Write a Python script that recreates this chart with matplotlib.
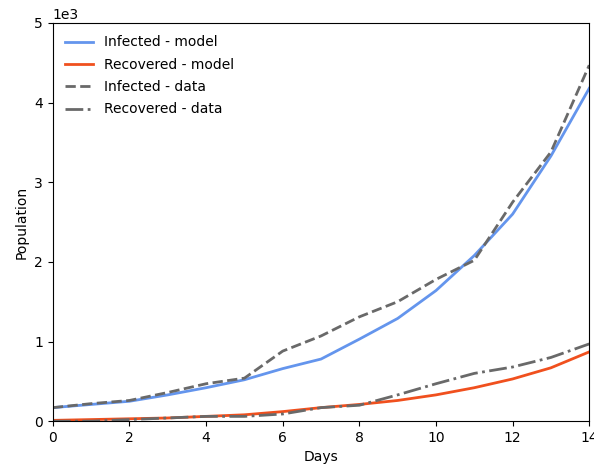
import numpy as np
import matplotlib.pyplot as plt

days = np.arange(0, 15)

infected_model = [170, 210, 250, 330, 420, 520, 660, 780, 1030, 1290, 1640, 2080, 2600, 3330, 4180]
recovered_model = [10, 20, 30, 40, 60, 80, 120, 170, 210, 260, 330, 420, 530, 670, 870]
infected_data = [170, 220, 260, 360, 470, 540, 880, 1070, 1310, 1500, 1780, 2020, 2750, 3380, 4470]
recovered_data = [0, 0, 20, 40, 60, 60, 90, 170, 200, 330, 470, 600, 680, 800, 970]

fig = plt.figure(figsize=(5.94, 4.69), dpi=100)
ax = fig.add_axes([0.089, 0.102, 0.903, 0.849])

ax.plot(days, infected_model, color='cornflowerblue', lw=2, label='Infected - model')
ax.plot(days, recovered_model, color='#f0501e', lw=2, label='Recovered - model')
ax.plot(days, infected_data, color='dimgray', lw=2, ls='--', label='Infected - data')
ax.plot(days, recovered_data, color='dimgray', lw=2, ls='-.', label='Recovered - data')

ax.set_xlim(0, 14)
ax.set_ylim(0, 5000)
ax.ticklabel_format(axis='y', style='sci', scilimits=(3, 3))
ax.set_xlabel('Days')
ax.set_ylabel('Population')
ax.legend(loc='upper left', frameon=False, labelspacing=0.6)

fig.savefig('out.png')
